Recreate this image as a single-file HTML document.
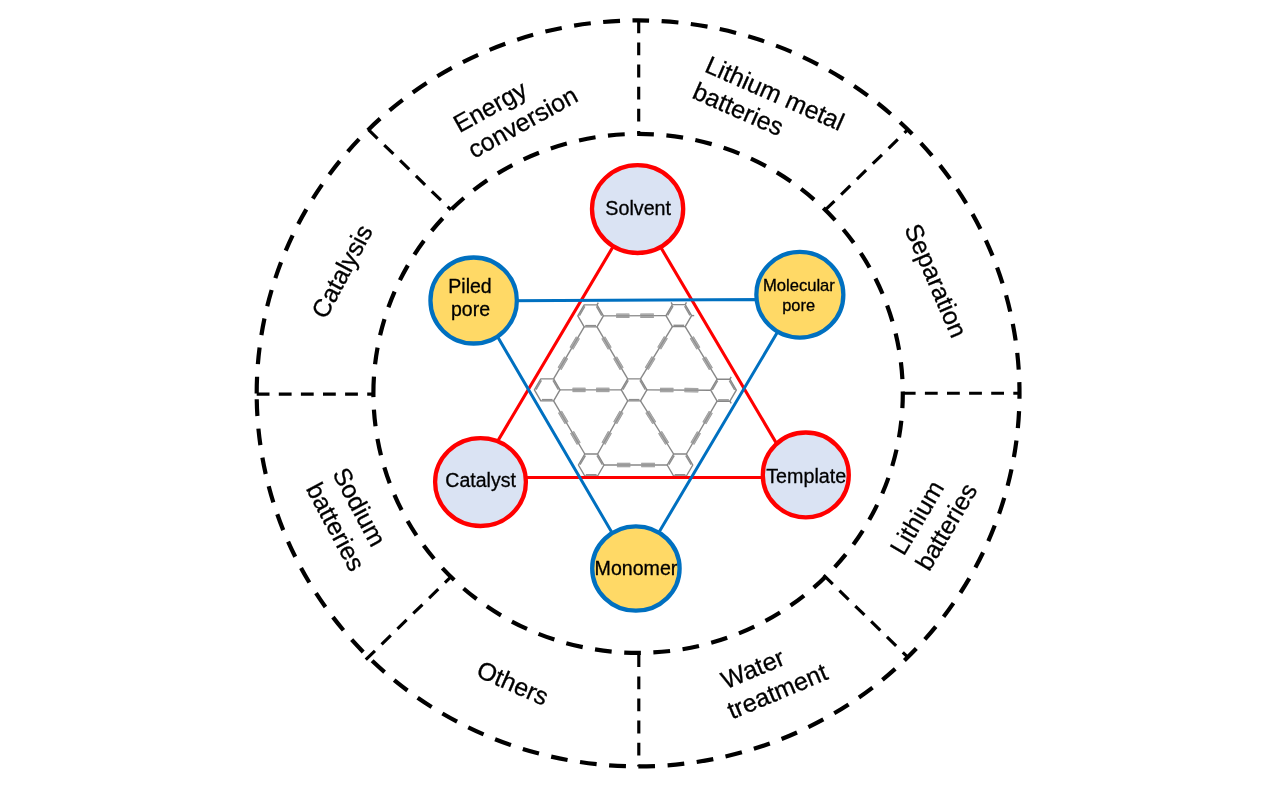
<!DOCTYPE html>
<html><head><meta charset="utf-8"><title>Diagram</title>
<style>
html,body{margin:0;padding:0;background:#fff;}
body{width:1283px;height:787px;overflow:hidden;}
svg{display:block;will-change:transform;font-family:"Liberation Sans",sans-serif;fill:#000;}
text{stroke:#000;stroke-width:0.3px;}
</style></head><body>
<svg width="1283" height="787" viewBox="0 0 1283 787">
<rect width="1283" height="787" fill="#fff"/>
<path d="M256.70,393.40 A381.40,373.00 0 1 1 1019.50,393.40 A381.40,373.00 0 1 1 256.70,393.40" fill="none" stroke="#000" stroke-width="4.2" stroke-dasharray="16.8 12.53"/>
<path d="M373.40,393.40 A264.70,259.40 0 1 1 902.80,393.40 A264.70,259.40 0 1 1 373.40,393.40" fill="none" stroke="#000" stroke-width="4.2" stroke-dasharray="16.8 12.53"/>
<line x1="638.70" y1="20.40" x2="638.70" y2="134.00" stroke="#000" stroke-width="3.15" stroke-dasharray="12.8 9.30"/>
<line x1="825.27" y1="209.98" x2="907.79" y2="129.65" stroke="#000" stroke-width="3.15" stroke-dasharray="12.8 9.30"/>
<line x1="902.80" y1="393.20" x2="1019.50" y2="393.20" stroke="#000" stroke-width="3.15" stroke-dasharray="12.8 9.30"/>
<line x1="823.62" y1="575.22" x2="907.79" y2="657.15" stroke="#000" stroke-width="3.15" stroke-dasharray="12.8 9.30"/>
<line x1="638.80" y1="654.30" x2="638.80" y2="766.40" stroke="#000" stroke-width="3.15" stroke-dasharray="12.8 9.30"/>
<line x1="365.76" y1="659.73" x2="450.93" y2="576.82" stroke="#000" stroke-width="3.15" stroke-dasharray="12.8 9.30"/>
<line x1="256.70" y1="394.10" x2="373.40" y2="394.10" stroke="#000" stroke-width="3.15" stroke-dasharray="12.8 9.30"/>
<line x1="368.41" y1="129.65" x2="450.93" y2="209.98" stroke="#000" stroke-width="3.15" stroke-dasharray="12.8 9.30"/>
<g fill="none"><path d="M560.00,389.90L621.30,389.90" stroke="#878787" stroke-width="1.4"/><path d="M572.57,388.30L585.44,388.30" stroke="#8e8e8e" stroke-width="1.3"/><path d="M572.57,391.50L585.44,391.50" stroke="#8e8e8e" stroke-width="1.3"/><path d="M572.57,389.90L585.44,389.90" stroke="#adadad" stroke-width="3.6"/><path d="M572.57,389.90L585.44,389.90" stroke="#8e8e8e" stroke-width="1.2"/><path d="M596.17,388.30L609.35,388.30" stroke="#8e8e8e" stroke-width="1.3"/><path d="M596.17,391.50L609.35,391.50" stroke="#8e8e8e" stroke-width="1.3"/><path d="M596.17,389.90L609.35,389.90" stroke="#adadad" stroke-width="3.6"/><path d="M596.17,389.90L609.35,389.90" stroke="#8e8e8e" stroke-width="1.2"/><path d="M646.90,389.90L710.70,390.20" stroke="#878787" stroke-width="1.4"/><path d="M659.99,388.36L673.38,388.42" stroke="#8e8e8e" stroke-width="1.3"/><path d="M659.97,391.56L673.37,391.62" stroke="#8e8e8e" stroke-width="1.3"/><path d="M659.98,389.96L673.38,390.02" stroke="#adadad" stroke-width="3.6"/><path d="M659.98,389.96L673.38,390.02" stroke="#8e8e8e" stroke-width="1.2"/><path d="M684.55,388.48L698.27,388.54" stroke="#8e8e8e" stroke-width="1.3"/><path d="M684.53,391.68L698.25,391.74" stroke="#8e8e8e" stroke-width="1.3"/><path d="M684.54,390.08L698.26,390.14" stroke="#adadad" stroke-width="3.6"/><path d="M684.54,390.08L698.26,390.14" stroke="#8e8e8e" stroke-width="1.2"/><path d="M603.40,315.90L666.00,315.60" stroke="#878787" stroke-width="1.4"/><path d="M616.23,314.24L629.37,314.18" stroke="#8e8e8e" stroke-width="1.3"/><path d="M616.24,317.44L629.39,317.38" stroke="#8e8e8e" stroke-width="1.3"/><path d="M616.23,315.84L629.38,315.78" stroke="#adadad" stroke-width="3.6"/><path d="M616.23,315.84L629.38,315.78" stroke="#8e8e8e" stroke-width="1.2"/><path d="M640.33,314.12L653.79,314.06" stroke="#8e8e8e" stroke-width="1.3"/><path d="M640.34,317.32L653.80,317.26" stroke="#8e8e8e" stroke-width="1.3"/><path d="M640.33,315.72L653.79,315.66" stroke="#adadad" stroke-width="3.6"/><path d="M640.33,315.72L653.79,315.66" stroke="#8e8e8e" stroke-width="1.2"/><path d="M604.00,465.00L667.20,465.00" stroke="#878787" stroke-width="1.4"/><path d="M616.96,463.40L630.23,463.40" stroke="#8e8e8e" stroke-width="1.3"/><path d="M616.96,466.60L630.23,466.60" stroke="#8e8e8e" stroke-width="1.3"/><path d="M616.96,465.00L630.23,465.00" stroke="#adadad" stroke-width="3.6"/><path d="M616.96,465.00L630.23,465.00" stroke="#8e8e8e" stroke-width="1.2"/><path d="M641.29,463.40L654.88,463.40" stroke="#8e8e8e" stroke-width="1.3"/><path d="M641.29,466.60L654.88,466.60" stroke="#8e8e8e" stroke-width="1.3"/><path d="M641.29,465.00L654.88,465.00" stroke="#adadad" stroke-width="3.6"/><path d="M641.29,465.00L654.88,465.00" stroke="#8e8e8e" stroke-width="1.2"/><path d="M597.00,326.90L627.70,378.90" stroke="#878787" stroke-width="1.4"/><path d="M604.67,336.75L611.12,347.67" stroke="#8e8e8e" stroke-width="1.3"/><path d="M601.92,338.37L608.36,349.29" stroke="#8e8e8e" stroke-width="1.3"/><path d="M603.29,337.56L609.74,348.48" stroke="#adadad" stroke-width="3.6"/><path d="M603.29,337.56L609.74,348.48" stroke="#8e8e8e" stroke-width="1.2"/><path d="M616.49,356.77L623.09,367.95" stroke="#8e8e8e" stroke-width="1.3"/><path d="M613.74,358.39L620.34,369.57" stroke="#8e8e8e" stroke-width="1.3"/><path d="M615.11,357.58L621.71,368.76" stroke="#adadad" stroke-width="3.6"/><path d="M615.11,357.58L621.71,368.76" stroke="#8e8e8e" stroke-width="1.2"/><path d="M685.20,326.60L717.10,379.20" stroke="#878787" stroke-width="1.4"/><path d="M693.11,336.55L699.81,347.60" stroke="#8e8e8e" stroke-width="1.3"/><path d="M690.37,338.21L697.07,349.26" stroke="#8e8e8e" stroke-width="1.3"/><path d="M691.74,337.38L698.44,348.43" stroke="#adadad" stroke-width="3.6"/><path d="M691.74,337.38L698.44,348.43" stroke="#8e8e8e" stroke-width="1.2"/><path d="M705.39,356.80L712.25,368.11" stroke="#8e8e8e" stroke-width="1.3"/><path d="M702.65,358.46L709.51,369.77" stroke="#8e8e8e" stroke-width="1.3"/><path d="M704.02,357.63L710.88,368.94" stroke="#adadad" stroke-width="3.6"/><path d="M704.02,357.63L710.88,368.94" stroke="#8e8e8e" stroke-width="1.2"/><path d="M553.60,400.90L584.80,454.00" stroke="#878787" stroke-width="1.4"/><path d="M561.38,410.97L567.93,422.13" stroke="#8e8e8e" stroke-width="1.3"/><path d="M558.62,412.60L565.17,423.75" stroke="#8e8e8e" stroke-width="1.3"/><path d="M560.00,411.79L566.55,422.94" stroke="#adadad" stroke-width="3.6"/><path d="M560.00,411.79L566.55,422.94" stroke="#8e8e8e" stroke-width="1.2"/><path d="M573.39,431.42L580.10,442.83" stroke="#8e8e8e" stroke-width="1.3"/><path d="M570.63,433.04L577.34,444.46" stroke="#8e8e8e" stroke-width="1.3"/><path d="M572.01,432.23L578.72,443.65" stroke="#adadad" stroke-width="3.6"/><path d="M572.01,432.23L578.72,443.65" stroke="#8e8e8e" stroke-width="1.2"/><path d="M640.50,400.90L673.60,454.00" stroke="#878787" stroke-width="1.4"/><path d="M648.64,410.94L655.59,422.09" stroke="#8e8e8e" stroke-width="1.3"/><path d="M645.93,412.63L652.88,423.78" stroke="#8e8e8e" stroke-width="1.3"/><path d="M647.29,411.79L654.24,422.94" stroke="#adadad" stroke-width="3.6"/><path d="M647.29,411.79L654.24,422.94" stroke="#8e8e8e" stroke-width="1.2"/><path d="M661.39,431.38L668.50,442.80" stroke="#8e8e8e" stroke-width="1.3"/><path d="M658.67,433.08L665.79,444.49" stroke="#8e8e8e" stroke-width="1.3"/><path d="M660.03,432.23L667.15,443.65" stroke="#adadad" stroke-width="3.6"/><path d="M660.03,432.23L667.15,443.65" stroke="#8e8e8e" stroke-width="1.2"/><path d="M672.40,326.60L640.50,378.90" stroke="#878787" stroke-width="1.4"/><path d="M667.23,338.15L660.53,349.14" stroke="#8e8e8e" stroke-width="1.3"/><path d="M664.49,336.49L657.80,347.47" stroke="#8e8e8e" stroke-width="1.3"/><path d="M665.86,337.32L659.16,348.30" stroke="#adadad" stroke-width="3.6"/><path d="M665.86,337.32L659.16,348.30" stroke="#8e8e8e" stroke-width="1.2"/><path d="M654.94,358.29L648.09,369.53" stroke="#8e8e8e" stroke-width="1.3"/><path d="M652.21,356.62L645.35,367.87" stroke="#8e8e8e" stroke-width="1.3"/><path d="M653.58,357.46L646.72,368.70" stroke="#adadad" stroke-width="3.6"/><path d="M653.58,357.46L646.72,368.70" stroke="#8e8e8e" stroke-width="1.2"/><path d="M584.20,326.90L553.60,378.90" stroke="#878787" stroke-width="1.4"/><path d="M579.31,338.37L572.88,349.29" stroke="#8e8e8e" stroke-width="1.3"/><path d="M576.55,336.75L570.12,347.67" stroke="#8e8e8e" stroke-width="1.3"/><path d="M577.93,337.56L571.50,348.48" stroke="#adadad" stroke-width="3.6"/><path d="M577.93,337.56L571.50,348.48" stroke="#8e8e8e" stroke-width="1.2"/><path d="M567.52,358.39L560.95,369.57" stroke="#8e8e8e" stroke-width="1.3"/><path d="M564.77,356.77L558.19,367.95" stroke="#8e8e8e" stroke-width="1.3"/><path d="M566.15,357.58L559.57,368.76" stroke="#adadad" stroke-width="3.6"/><path d="M566.15,357.58L559.57,368.76" stroke="#8e8e8e" stroke-width="1.2"/><path d="M627.70,400.90L597.60,454.00" stroke="#878787" stroke-width="1.4"/><path d="M622.92,412.57L616.60,423.73" stroke="#8e8e8e" stroke-width="1.3"/><path d="M620.14,411.00L613.82,422.15" stroke="#8e8e8e" stroke-width="1.3"/><path d="M621.53,411.79L615.21,422.94" stroke="#adadad" stroke-width="3.6"/><path d="M621.53,411.79L615.21,422.94" stroke="#8e8e8e" stroke-width="1.2"/><path d="M611.33,433.02L604.86,444.43" stroke="#8e8e8e" stroke-width="1.3"/><path d="M608.55,431.44L602.08,442.86" stroke="#8e8e8e" stroke-width="1.3"/><path d="M609.94,432.23L603.47,443.65" stroke="#adadad" stroke-width="3.6"/><path d="M609.94,432.23L603.47,443.65" stroke="#8e8e8e" stroke-width="1.2"/><path d="M717.10,401.20L686.40,454.00" stroke="#878787" stroke-width="1.4"/><path d="M712.19,412.83L705.74,423.92" stroke="#8e8e8e" stroke-width="1.3"/><path d="M709.42,411.22L702.98,422.31" stroke="#8e8e8e" stroke-width="1.3"/><path d="M710.81,412.02L704.36,423.11" stroke="#adadad" stroke-width="3.6"/><path d="M710.81,412.02L704.36,423.11" stroke="#8e8e8e" stroke-width="1.2"/><path d="M700.37,433.16L693.77,444.51" stroke="#8e8e8e" stroke-width="1.3"/><path d="M697.60,431.55L691.00,442.90" stroke="#8e8e8e" stroke-width="1.3"/><path d="M698.99,432.35L692.39,443.70" stroke="#adadad" stroke-width="3.6"/><path d="M698.99,432.35L692.39,443.70" stroke="#8e8e8e" stroke-width="1.2"/><polygon points="646.90,389.90 640.50,400.90 627.70,400.90 621.30,389.90 627.70,378.90 640.50,378.90" fill="#fff" stroke="#878787" stroke-width="1.4" stroke-linejoin="round"/><path d="M639.48,399.65L628.72,399.65" stroke="#8e8e8e" stroke-width="1.5"/><path d="M622.90,389.64L628.27,380.40" stroke="#8e8e8e" stroke-width="1.5"/><path d="M639.93,380.40L645.30,389.64" stroke="#8e8e8e" stroke-width="1.5"/><polygon points="736.30,390.20 729.90,401.20 717.10,401.20 710.70,390.20 717.10,379.20 729.90,379.20" fill="#fff" stroke="#878787" stroke-width="1.4" stroke-linejoin="round"/><path d="M728.88,399.95L718.12,399.95" stroke="#8e8e8e" stroke-width="1.5"/><path d="M712.30,389.94L717.67,380.70" stroke="#8e8e8e" stroke-width="1.5"/><path d="M729.33,380.70L734.70,389.94" stroke="#8e8e8e" stroke-width="1.5"/><polygon points="560.00,389.90 553.60,400.90 540.80,400.90 534.40,389.90 540.80,378.90 553.60,378.90" fill="#fff" stroke="#878787" stroke-width="1.4" stroke-linejoin="round"/><path d="M552.58,399.65L541.82,399.65" stroke="#8e8e8e" stroke-width="1.5"/><path d="M536.00,389.64L541.37,380.40" stroke="#8e8e8e" stroke-width="1.5"/><path d="M553.03,380.40L558.40,389.64" stroke="#8e8e8e" stroke-width="1.5"/><polygon points="603.40,315.90 597.00,326.90 584.20,326.90 577.80,315.90 584.20,304.90 597.00,304.90" fill="#fff" stroke="#878787" stroke-width="1.4" stroke-linejoin="round"/><path d="M595.98,325.65L585.22,325.65" stroke="#8e8e8e" stroke-width="1.5"/><path d="M579.40,315.64L584.77,306.40" stroke="#8e8e8e" stroke-width="1.5"/><path d="M596.43,306.40L601.80,315.64" stroke="#8e8e8e" stroke-width="1.5"/><polygon points="691.60,315.60 685.20,326.60 672.40,326.60 666.00,315.60 672.40,304.60 685.20,304.60" fill="#fff" stroke="#878787" stroke-width="1.4" stroke-linejoin="round"/><path d="M684.18,325.35L673.42,325.35" stroke="#8e8e8e" stroke-width="1.5"/><path d="M667.60,315.34L672.97,306.10" stroke="#8e8e8e" stroke-width="1.5"/><path d="M684.63,306.10L690.00,315.34" stroke="#8e8e8e" stroke-width="1.5"/><polygon points="604.00,465.00 597.60,476.00 584.80,476.00 578.40,465.00 584.80,454.00 597.60,454.00" fill="#fff" stroke="#878787" stroke-width="1.4" stroke-linejoin="round"/><path d="M596.58,474.75L585.82,474.75" stroke="#8e8e8e" stroke-width="1.5"/><path d="M580.00,464.74L585.37,455.50" stroke="#8e8e8e" stroke-width="1.5"/><path d="M597.03,455.50L602.40,464.74" stroke="#8e8e8e" stroke-width="1.5"/><polygon points="692.80,465.00 686.40,476.00 673.60,476.00 667.20,465.00 673.60,454.00 686.40,454.00" fill="#fff" stroke="#878787" stroke-width="1.4" stroke-linejoin="round"/><path d="M685.38,474.75L674.62,474.75" stroke="#8e8e8e" stroke-width="1.5"/><path d="M668.80,464.74L674.17,455.50" stroke="#8e8e8e" stroke-width="1.5"/><path d="M685.83,455.50L691.20,464.74" stroke="#8e8e8e" stroke-width="1.5"/><path d="M597.00,304.90L598.31,302.65" stroke="#878787" stroke-width="1.4"/><path d="M672.40,304.60L671.09,302.35" stroke="#878787" stroke-width="1.4"/><path d="M685.20,304.60L686.51,302.35" stroke="#878787" stroke-width="1.4"/><path d="M691.60,315.60L694.20,315.60" stroke="#878787" stroke-width="1.4"/><path d="M729.90,379.20L731.21,376.95" stroke="#878787" stroke-width="1.4"/><path d="M729.90,401.20L731.21,403.45" stroke="#878787" stroke-width="1.4"/></g>
<polygon points="636.8,206.7 796.6,477.5 476.1,477.5" fill="none" stroke="#FF0000" stroke-width="3.1" stroke-linejoin="miter"/>
<polygon points="476.6,300.8 796.9,299.3 635.2,572.4" fill="none" stroke="#0070C0" stroke-width="3.0" stroke-linejoin="miter"/>
<ellipse cx="637.6" cy="209.1" rx="45.6" ry="43.9" fill="#DAE3F3" stroke="#FF0000" stroke-width="4.3"/>
<ellipse cx="473.65" cy="300.5" rx="43.2" ry="43.0" fill="#FFD966" stroke="#0070C0" stroke-width="4.3"/>
<ellipse cx="799.85" cy="294.75" rx="43.5" ry="42.9" fill="#FFD966" stroke="#0070C0" stroke-width="4.3"/>
<ellipse cx="480.5" cy="482.1" rx="45.4" ry="43.9" fill="#DAE3F3" stroke="#FF0000" stroke-width="4.3"/>
<ellipse cx="805.8" cy="474.9" rx="43.0" ry="42.4" fill="#DAE3F3" stroke="#FF0000" stroke-width="4.3"/>
<ellipse cx="635.9" cy="568.5" rx="43.7" ry="42.2" fill="#FFD966" stroke="#0070C0" stroke-width="4.3"/>
<text x="638.2" y="215.1" font-size="19.7" text-anchor="middle">Solvent</text>
<text x="470" y="292.9" font-size="19.5" text-anchor="middle">Piled</text>
<text x="470.5" y="315.7" font-size="19.5" text-anchor="middle">pore</text>
<text x="798.9" y="290.6" font-size="16.6" text-anchor="middle">Molecular</text>
<text x="798.6" y="310.9" font-size="16.4" text-anchor="middle">pore</text>
<text x="480.6" y="486.6" font-size="19.5" text-anchor="middle">Catalyst</text>
<text x="806.2" y="482.7" font-size="19.7" text-anchor="middle">Template</text>
<text x="636" y="575" font-size="19.6" text-anchor="middle">Monomer</text>
<text transform="translate(459.60,133.30) rotate(-29)" font-size="25">Energy</text>
<text transform="translate(473.90,159.10) rotate(-29)" font-size="25">conversion</text>
<text transform="translate(703.40,71.20) rotate(23.8)" font-size="25">Lithium metal</text>
<text transform="translate(690.90,97.59) rotate(23.8)" font-size="25">batteries</text>
<text transform="translate(904.10,228.50) rotate(66.7)" font-size="25">Separation</text>
<text transform="translate(903.80,556.80) rotate(-59.4)" font-size="25">Lithium</text>
<text transform="translate(929.19,572.32) rotate(-59.4)" font-size="25">batteries</text>
<text transform="translate(725.80,689.40) rotate(-22.8)" font-size="25">Water</text>
<text transform="translate(731.93,719.59) rotate(-22.8)" font-size="25">treatment</text>
<text transform="translate(475.00,676.10) rotate(23.5)" font-size="25">Others</text>
<text transform="translate(332.00,473.60) rotate(62)" font-size="25">Sodium</text>
<text transform="translate(305.55,488.45) rotate(62)" font-size="25">batteries</text>
<text transform="translate(325.70,320.30) rotate(-62)" font-size="25">Catalysis</text>
</svg>
</body></html>
